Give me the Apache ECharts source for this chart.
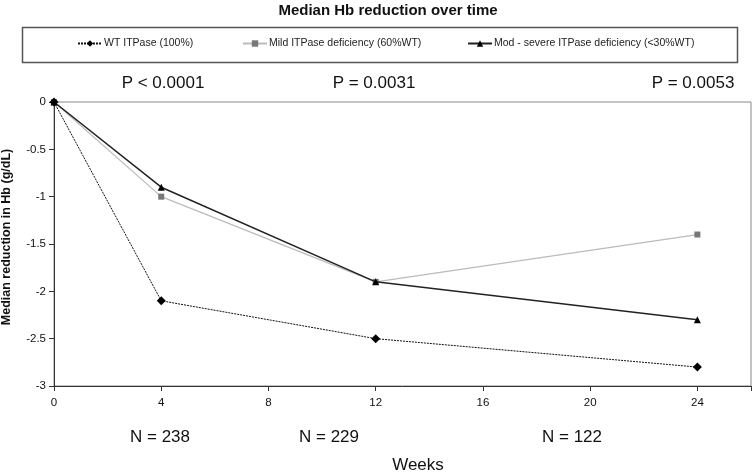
<!DOCTYPE html>
<html><head><meta charset="utf-8">
<script src="https://cdn.jsdelivr.net/npm/echarts@6/dist/echarts.min.js"></script>
<style>html,body{margin:0;padding:0;background:#fff}#c{width:754px;height:475px}</style>
</head><body><div id="c"></div>
<script>
const weeks = [0, 4, 12, 24];
const wtValues = [0, -2.1, -2.5, -2.8];
const mildValues = [0, -1.0, -1.9, -1.4];
const modValues = [0, -0.9, -1.9, -2.3];
const seriesNames = ['WT ITPase (100%)', 'Mild ITPase deficiency (60%WT)', 'Mod - severe ITPase deficiency (<30%WT)'];
const pLabels = ['P < 0.0001', 'P = 0.0031', 'P = 0.0053'];
const nLabels = ['N = 238', 'N = 229', 'N = 122'];

const F = 'Liberation Sans, Arial, sans-serif';
const chart = echarts.init(document.getElementById('c'));
const pair = v => weeks.map((w, i) => [w, v[i]]);
const legendCommon = { top: 38, padding: 0, itemWidth: 24, itemHeight: 8, itemGap: 4, textStyle: { fontFamily: F, fontSize: 10.5, color: '#222', padding: [0, 0, 0, -3] }, selectedMode: false };
const txt = (t, x, y) => ({ type: 'text', x: x, y: y, style: { text: t, font: '17px ' + F, fill: '#111', align: 'center', verticalAlign: 'middle' } });
chart.setOption({
  animation: false,
  legend: [
    Object.assign({ left: 77, data: [seriesNames[0]] }, legendCommon),
    Object.assign({ left: 242, data: [seriesNames[1]] }, legendCommon),
    Object.assign({ left: 467, data: [seriesNames[2]] }, legendCommon)
  ],
  grid: { left: 54, right: 2, top: 102, bottom: 89, show: true, borderColor: '#888', borderWidth: 1 },
  xAxis: {
    type: 'value', min: 0, max: 26, interval: 4,
    axisLine: { onZero: false, lineStyle: { color: '#333' } },
    axisTick: { lineStyle: { color: '#333' } },
    splitLine: { show: false },
    axisLabel: { fontFamily: F, fontSize: 11.5, color: '#111', margin: 11, formatter: v => (v % 4 === 0 ? v : '') }
  },
  yAxis: {
    type: 'value', min: -3, max: 0, interval: 0.5,
    axisLine: { show: true, lineStyle: { color: '#333' } },
    axisTick: { show: true, lineStyle: { color: '#333' } },
    splitLine: { show: false },
    axisLabel: { fontFamily: F, fontSize: 11.5, color: '#111', margin: 8 }
  },
  series: [
    { name: seriesNames[0], type: 'line', data: pair(wtValues), symbol: 'diamond', symbolSize: 9,
      lineStyle: { color: '#111', width: 1, type: [2, 1] }, itemStyle: { color: '#000' }, z: 3 },
    { name: seriesNames[1], type: 'line', data: pair(mildValues), symbol: 'rect', symbolSize: 6,
      lineStyle: { color: '#bbb', width: 1.2 }, itemStyle: { color: '#777' }, z: 2 },
    { name: seriesNames[2], type: 'line', data: pair(modValues), symbol: 'triangle', symbolSize: 7,
      lineStyle: { color: '#222', width: 1.5 }, itemStyle: { color: '#000' }, z: 4 }
  ],
  graphic: [
    { type: 'text', x: 388, y: 11, style: { text: 'Median Hb reduction over time', font: 'bold 15px ' + F, fill: '#111', align: 'center', verticalAlign: 'middle' } },
    { type: 'rect', left: 20, top: 25, shape: { width: 715, height: 35 }, style: { fill: 'none', stroke: '#555', lineWidth: 1.5 }, z: -1 },
    { type: 'text', x: 7, y: 237, rotation: Math.PI / 2, style: { text: 'Median reduction in Hb (g/dL)', font: 'bold 12.5px ' + F, fill: '#111', align: 'center', verticalAlign: 'middle' } },
    txt(pLabels[0], 163, 83), txt(pLabels[1], 374, 83), txt(pLabels[2], 693, 83),
    txt(nLabels[0], 160, 437), txt(nLabels[1], 329, 437), txt(nLabels[2], 572, 437),
    txt('Weeks', 418, 465)
  ]
});
</script></body></html>
